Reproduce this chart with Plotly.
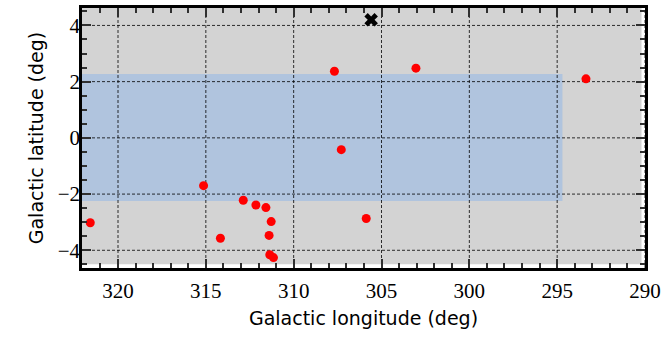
import plotly.graph_objects as go

# Data
src_lon = [321.58, 315.13, 312.87, 312.15, 311.58, 311.28, 311.40, 311.36, 311.15,
           314.17, 307.68, 307.29, 303.04, 305.87, 293.36]
src_lat = [-3.02, -1.70, -2.22, -2.39, -2.48, -2.98, -3.47, -4.16, -4.26,
           -3.57, 2.37, -0.42, 2.48, -2.87, 2.10]
target_lon = [305.59]
target_lat = [4.20]

x_range = [322.05, 290.0]
y_range = [-4.63, 4.62]
x_ticks = [320, 315, 310, 305, 300, 295, 290]
y_ticks = [-4, -2, 0, 2, 4]

fig = go.Figure()

# Gray survey area and blue band
fig.add_shape(type="rect", x0=x_range[0], x1=290.2, y0=-4.5, y1=y_range[1],
              fillcolor="#d3d3d3", line_width=0, layer="between")
fig.add_shape(type="rect", x0=x_range[0], x1=294.7, y0=-2.25, y1=2.27,
              fillcolor="#b0c4de", line_width=0, layer="between")
# dashed grid on top of the shaded areas
for xv in x_ticks:
    fig.add_shape(type="line", x0=xv, x1=xv, y0=y_range[0], y1=y_range[1],
                  line=dict(color="black", width=0.8, dash="3px,2px"), layer="between")
for yv in y_ticks:
    fig.add_shape(type="line", y0=yv, y1=yv, x0=x_range[0], x1=x_range[1],
                  line=dict(color="black", width=0.8, dash="3px,2px"), layer="between")

fig.add_trace(go.Scatter(x=src_lon, y=src_lat, mode="markers",
                         marker=dict(color="#ff0000", size=9, line_width=0),
                         showlegend=False))
fig.add_trace(go.Scatter(x=target_lon, y=target_lat, mode="markers",
                         marker=dict(color="black", size=12, symbol="x",
                                     line_width=0),
                         showlegend=False))

tickfont = dict(family="Liberation Serif", size=21, color="black")
titlefont = dict(family="DejaVu Sans", size=19, color="black")
TICKC = "#303030"

fig.update_xaxes(range=x_range, tickvals=x_ticks, ticks="inside", ticklen=9,
                 tickwidth=2, tickcolor=TICKC, showline=True, linewidth=2.5,
                 linecolor="black", mirror="allticks", showgrid=False,
                 zeroline=False, tickfont=tickfont, ticklabelstandoff=2,
                 title=dict(text="Galactic longitude (deg)", font=titlefont,
                            standoff=10),
                 minor=dict(dtick=1, ticks="inside", ticklen=5, tickwidth=1.5,
                            tickcolor=TICKC, showgrid=False))
fig.update_yaxes(range=y_range, tickvals=y_ticks, ticks="inside", ticklen=9,
                 tickwidth=2, tickcolor=TICKC, showline=True, linewidth=2.5,
                 linecolor="black", mirror="allticks", showgrid=False,
                 zeroline=False, tickfont=tickfont, ticklabelstandoff=-5,
                 title=dict(text="Galactic latitude (deg)", font=titlefont,
                            standoff=10),
                 minor=dict(dtick=0.5, ticks="inside", ticklen=5, tickwidth=1.5,
                            tickcolor=TICKC, showgrid=False))

fig.update_layout(width=666, height=343, margin=dict(l=82, r=17, t=5, b=75),
                  plot_bgcolor="white", paper_bgcolor="white")

fig.write_html("out.html")
